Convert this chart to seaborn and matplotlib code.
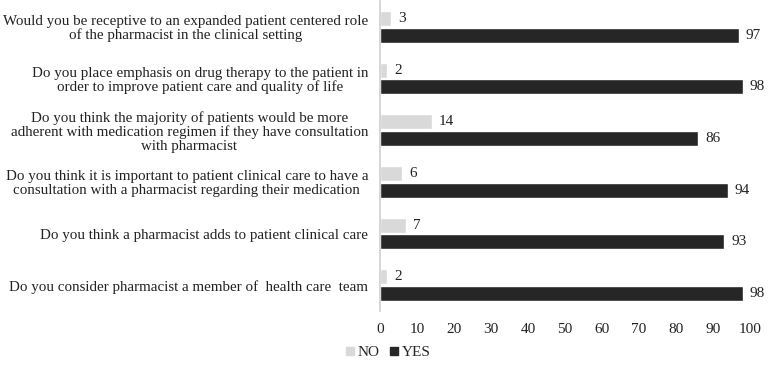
import matplotlib
matplotlib.use("Agg")
import matplotlib.pyplot as plt
import seaborn as sns
import pandas as pd
from matplotlib.lines import Line2D

questions = [
    "Would you be receptive to an expanded patient centered role\nof the pharmacist in the clinical setting",
    "Do you place emphasis on drug therapy to the patient in\norder to improve patient care and quality of life",
    "Do you think the majority of patients would be more\nadherent with medication regimen if they have consultation\nwith pharmacist",
    "Do you think it is important to patient clinical care to have a\nconsultation with a pharmacist regarding their medication",
    "Do you think a pharmacist adds to patient clinical care",
    "Do you consider pharmacist a member of  health care  team",
]
no_vals = [3, 2, 14, 6, 7, 2]
yes_vals = [97, 98, 86, 94, 93, 98]
responses = ["NO", "YES"]
colors = {"NO": "#d9d9d9", "YES": "#262626"}
x_ticks = list(range(0, 101, 10))

sns.set_theme(style="white")
plt.rcParams["font.family"] = ["Liberation Serif", "DejaVu Serif"]

df = pd.DataFrame({
    "question": questions * 2,
    "response": ["NO"] * len(questions) + ["YES"] * len(questions),
    "value": no_vals + yes_vals,
})

fig = plt.figure(figsize=(7.68, 3.70), dpi=100)
ax = fig.add_axes([380 / 768, 1 - 311 / 370, 370 / 768, 310 / 370])

sns.barplot(data=df, y="question", x="value", hue="response", order=questions,
            hue_order=responses, palette=colors, orient="h", width=0.64, gap=0.1,
            ax=ax, legend=False, saturation=1)

for cont in ax.containers:
    ax.bar_label(cont, padding=5, fontsize=11, color="#222222")

ax.set_xlim(0, 100)
ax.set_xticks(x_ticks)
ax.set_xticklabels([str(t) for t in x_ticks], fontsize=11, color="#222222")
ax.set_xlabel("")
ax.set_ylabel("")
ax.tick_params(axis="x", length=0, pad=8.5)
ax.tick_params(axis="y", length=0, pad=8.5)
for lab in ax.get_yticklabels():
    lab.set_fontsize(10.8)
    lab.set_color("#222222")
    lab.set_multialignment("center")
    lab.set_linespacing(1.05)

for side in ["top", "right", "bottom"]:
    ax.spines[side].set_visible(False)
ax.spines["left"].set_color("#d0d0d0")
ax.spines["left"].set_linewidth(1.2)

handles = [Line2D([0], [0], marker="s", linestyle="", markersize=6,
                  markerfacecolor=colors[r], markeredgecolor=colors[r]) for r in responses]
fig.legend(handles, responses, loc="center", bbox_to_anchor=(388 / 768, 1 - 352 / 370),
           ncol=2, frameon=False, fontsize=11, handlelength=0.7, handletextpad=0.15,
           columnspacing=0.6)

fig.savefig("out.png", dpi=100)
